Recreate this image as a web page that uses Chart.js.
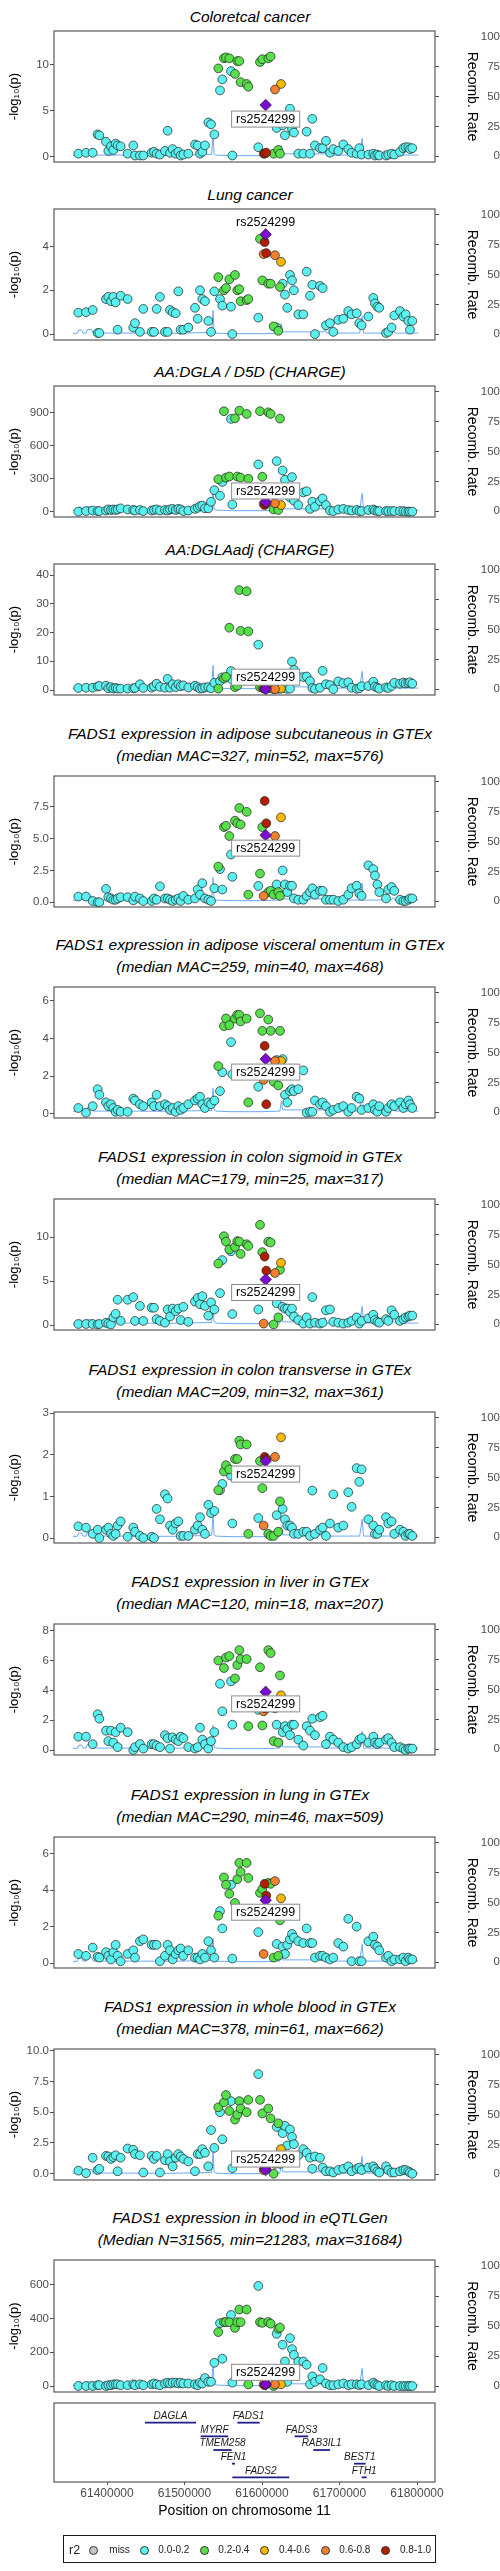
<!DOCTYPE html>
<html>
<head>
<meta charset="utf-8">
<title>FADS1 locus regional association plots</title>
<script src="https://cdn.jsdelivr.net/npm/chart.js@4.4.1/dist/chart.umd.min.js"></script>
<style>
  html, body { margin: 0; padding: 0; background: #fff; }
  #page { position: relative; width: 500px; height: 2571px; overflow: hidden; font-family: "Liberation Sans", Arial, sans-serif; }
  #page canvas { position: absolute; left: 0; }
  .ptitle { position: absolute; left: 0; width: 500px; text-align: center; font-style: italic; font-size: 15.5px; line-height: 22.5px; color: #000; white-space: nowrap; }
  #legendBox { position: absolute; left: 63px; top: 2535px; width: 371px; height: 26px; border: 1.5px solid #1a1a1a; }
  .lg-text { position: absolute; font-size: 10px; line-height: 12px; color: #222; white-space: nowrap; }
  .lg-dot { position: absolute; width: 7px; height: 7px; border-radius: 50%; border: 0.8px solid #333; }
</style>
</head>
<body>
<div id="page"></div>
<script>
(function () {
  'use strict';

  // ---- data -------------------------------------------------------------
  const LEAD_SNP = 'rs2524299';

  const SNP_POS = [
    61363000, 61372900, 61381500, 61387900, 61390100, 61398700, 61401700, 61405100, 61408100, 61411100,
    61413700, 61417600, 61426600, 61433900, 61436100, 61442500, 61446800, 61457600, 61460600, 61464000,
    61468300, 61474800, 61478200, 61481300, 61484700, 61488600, 61492000, 61495000, 61498500, 61504900,
    61513500, 61517000, 61520000, 61523000, 61526400, 61530700, 61534200, 61538500,
    61543600, 61545800, 61548800, 61550900, 61553500, 61557800, 61560000, 61561700, 61565100, 61568100,
    61570700, 61572400, 61580200, 61582300, 61595200, 61597400, 61600400, 61602100, 61603400, 61604700,
    61605500, 61608100, 61611100, 61615000, 61616700, 61618900, 61621000, 61623200, 61624500, 61626600,
    61629600, 61632600, 61636100, 61638700, 61641200, 61646800,
    61653300, 61657600, 61661900, 61664900, 61668300, 61674800, 61678200, 61682500, 61687700, 61692000,
    61698400, 61704900, 61711300, 61715600, 61722100, 61725500, 61728500, 61737200, 61743600, 61745700,
    61748800, 61751300, 61760000, 61762900, 61767200, 61770700, 61778000, 61782300, 61785300, 61788800,
    61790900, 61793900
  ];

  // r2 class with the lead SNP: 0 miss, 1 0.0-0.2 ... 5 0.8-1.0, 6 = lead SNP
  const SNP_LD = [
    1, 1, 1, 1, 1, 1, 1, 1, 1, 1, 1, 1, 1, 1, 1, 1, 1, 1, 1, 1,
    1, 1, 1, 1, 1, 1, 1, 1, 1, 1, 1, 1, 1, 1, 1, 1, 1, 1,
    2, 1, 1, 2, 2, 2, 1, 1, 2, 2, 2, 2, 2, 2, 1, 2, 2, 4, 5, 6,
    5, 2, 2, 2, 4, 1, 2, 2, 3, 1, 1, 1, 1, 1, 1, 1,
    1, 1, 1, 1, 1, 1, 1, 1, 1, 1, 1, 1, 1, 1, 1, 1,
    1, 1, 1, 1, 1, 1, 1, 1, 1, 1, 1, 1, 1, 1, 1, 1
  ];

  const LD_LABELS = ['miss', '0.0-0.2', '0.2-0.4', '0.4-0.6', '0.6-0.8', '0.8-1.0'];

  const LOGP_CRC = [
    0.3, 0.4, 0.4, 2.4, 2.3, 1.6, 0.6, 1.1, 0.7, 1.4, 1.2, 1.1, 0.3, 1.2, 0.1, 0.1, 0.1, 0.4, 0.5, 0.3,
    0.2, 0.6, 2.8, 0.4, 0.8, 0.3, 0.5, 0.1, 0.2, 0.3, 1.3, 1.2, 0.3, 0.5, 1.2, 3.7, 3.5, 2.4,
    9.6, 7.2, 8.4, 10.7, 10.8, 10.7, 9.3, 0.1, 9.0, 10.4, 10.4, 8.1, 7.9, 7.6, 1.0, 10.3, 10.6, 0.3, 0.3, 5.6,
    0.4, 10.7, 10.9, 0.3, 7.3, 3.1, 0.7, 0.3, 7.9, 3.4, 2.3, 3.7, 5.2, 3.0, 2.6, 0.3,
    0.3, 2.7, 0.3, 4.1, 1.2, 0.9, 0.9, 1.7, 0.4, 0.8, 0.6, 1.3, 0.8, 0.4, 0.3, 0.9,
    0.2, 0.2, 0.3, 0.1, 0.2, 0.1, 0.1, 0.2, 0.3, 0.2, 0.5, 0.9, 1.0, 1.0, 0.8, 0.9
  ];
  const LOGP_LUNGCA = [
    0.98, 1.0, 1.1, 0.05, 0.05, 1.6, 1.7, 1.5, 1.7, 1.45, 0.2, 1.75, 1.6, 0.3, 0.5, 0.1, 1.15, 0.1, 0.1, 1.15,
    1.7, 0.1, 0.1, 1.1, 1.0, 0.95, 1.95, 0.2, 0.2, 0.3, 1.2, 0.7, 2.0, 1.6, 1.5, 0.6, 0.1, 1.95,
    2.6, 1.6, 1.3, 2.0, 2.1, 2.5, 1.25, 0.0, 2.7, 2.0, 2.05, 1.5, 1.55, 1.6, 0.75, 4.35, 2.45, 3.65, 4.2, 4.55,
    3.7, 2.3, 2.3, 0.35, 3.6, 0.3, 0.15, 2.15, 3.3, 2.3, 1.8, 1.2, 2.7, 2.45, 2.0, 0.9,
    0.9, 2.85, 1.75, 2.25, 0.0, 2.2, 2.1, 0.4, 0.5, 0.1, 0.65, 0.7, 1.05, 0.9, 0.95, 0.5,
    0.4, 0.8, 1.65, 1.4, 1.25, 1.2, 0.05, 0.1, 0.3, 0.85, 1.05, 0.8, 0.9, 0.6, 0.2, 0.6
  ];
  const LOGP_D5D = [
    0, 5, 10, 5, 5, 10, 20, 15, 20, 15, 20, 30, 20, 15, 10, 15, 5, 10, 15, 20,
    10, 15, 10, 20, 25, 15, 25, 20, 5, 10, 25, 35, 50, 55, 30, 30, 90, 195,
    295, 145, 270, 915, 310, 320, 845, 65, 850, 320, 920, 310, 890, 300, 430, 915, 318, 70, 60, 88,
    75, 905, 890, 20, 76, 460, 15, 848, 60, 375, 290, 200, 130, 315, 100, 60,
    175, 185, 25, 90, 45, 95, 120, 60, 10, 5, 20, 25, 15, 10, 15, 5,
    5, 15, 20, 10, 5, 5, 5, 5, 5, 5, 5, 5, 0, 0, 0, 0
  ];
  const LOGP_DGLAADJ = [
    0.7, 0.8, 0.8, 1.2, 1.4, 1.5, 0.6, 1.0, 0.5, 0.7, 0.5, 0.5, 0.5, 0.6, 0.7, 2.0, 0.7, 0.8, 1.3, 2.2,
    1.1, 0.8, 3.9, 0.8, 2.0, 1.0, 2.0, 1.3, 1.6, 0.9, 1.5, 1.0, 0.5, 0.6, 0.9, 1.0, 0.6, 2.5,
    0.5, 3.1, 4.4, 4.0, 4.6, 21.7, 6.6, 3.5, 1.0, 1.5, 34.8, 20.6, 34.4, 20.4, 15.8, 1.0, 1.0, 0.5, 0.5, 0.3,
    0.5, 0.8, 0.6, 0.3, 0.3, 0.5, 0.5, 0.5, 0.5, 1.1, 0.6, 0.4, 0.5, 9.9, 7.0, 4.6,
    4.5, 4.7, 3.1, 0.7, 0.4, 0.8, 6.7, 2.0, 1.7, 0.3, 3.0, 2.4, 2.7, 0.8, 0.4, 0.6,
    1.3, 1.4, 2.9, 1.2, 0.8, 0.5, 0.9, 0.7, 1.4, 2.5, 2.2, 2.6, 2.3, 2.4, 2.7, 2.2
  ];
  const LOGP_ADIPSUBQ = [
    0.45, 0.45, 0.1, 0.0, 0.0, 1.05, 0.4, 0.3, 0.2, 0.2, 0.3, 0.4, 0.4, 0.15, 0.45, 0.3, 0.1, 0.1, 0.3, 0.2,
    1.25, 0.3, 0.3, 0.2, 0.1, 0.2, 0.3, 0.1, 0.5, 0.2, 0.3, 1.0, 0.6, 1.5, 0.3, 0.2, 0.1, 1.1,
    2.8, 2.6, 1.0, 5.9, 6.0, 5.2, 3.75, 2.0, 6.4, 6.2, 7.4, 6.1, 7.1, 0.6, 1.28, 2.25, 5.9, 0.5, 7.95, 5.27,
    6.2, 0.8, 0.9, 0.6, 5.2, 1.4, 0.8, 0.5, 6.66, 2.5, 1.4, 0.8, 1.3, 1.3, 0.3, 0.2,
    0.2, 0.5, 0.8, 1.1, 0.6, 0.9, 0.9, 0.2, 0.2, 0.2, 0.1, 0.2, 0.6, 1.1, 1.3, 0.7,
    0.5, 2.9, 2.6, 2.1, 1.4, 0.8, 0.3, 1.0, 1.2, 0.9, 0.2, 0.1, 0.1, 0.2, 0.3, 0.3
  ];
  const LOGP_ADIPVISC = [
    0.3, 0.05, 0.4, 1.3, 1.0, 0.6, 0.4, 0.5, 0.3, 0.1, 0.2, 0.1, 0.1, 0.8, 0.7, 0.5, 0.4, 0.6, 0.4, 1.0,
    0.4, 0.5, 0.4, 0.2, 0.3, 0.1, 0.4, 0.2, 0.3, 0.5, 0.7, 0.8, 0.9, 0.5, 0.3, 0.6, 0.5, 0.7,
    2.53, 1.2, 2.2, 4.65, 5.06, 4.7, 3.8, 2.1, 5.05, 5.25, 5.25, 4.9, 5.05, 0.6, 1.43, 5.33, 4.4, 1.8, 3.6, 2.9,
    0.5, 5.0, 4.4, 1.7, 2.8, 2.85, 1.5, 4.4, 2.8, 2.9, 1.0, 0.6, 1.2, 1.3, 1.2, 1.3,
    2.3, 0.05, 0.1, 0.1, 0.7, 0.5, 0.6, 0.4, 0.1, 0.2, 0.3, 0.4, 0.1, 0.3, 0.9, 0.8,
    0.2, 0.3, 0.5, 0.2, 0.1, 0.4, 0.1, 0.3, 0.5, 0.4, 0.6, 0.3, 0.5, 0.7, 0.5, 0.3
  ];
  const LOGP_COLONSIG = [
    0.15, 0.15, 0.15, 0.1, 0.15, 0.3, 0.2, 0.1, 0.9, 1.3, 2.9, 0.5, 2.9, 3.2, 0.5, 2.2, 0.5, 2.0, 2.0, 0.7,
    0.5, 0.3, 1.8, 1.0, 1.9, 1.6, 1.9, 0.6, 2.1, 0.4, 2.7, 3.1, 2.4, 3.3, 2.2, 1.1, 2.6, 1.8,
    7.0, 3.65, 7.4, 10.1, 9.5, 8.6, 8.4, 1.28, 8.9, 9.55, 9.5, 8.1, 9.2, 9.0, 1.8, 11.4, 8.3, 0.2, 7.8, 5.2,
    6.2, 9.5, 9.4, 0.1, 5.94, 2.5, 0.9, 6.3, 7.1, 2.1, 1.9, 1.9, 1.5, 1.9, 1.0, 0.6,
    0.2, 0.9, 0.2, 3.2, 0.3, 0.2, 0.3, 1.7, 1.8, 0.4, 0.3, 0.2, 0.3, 0.5, 0.9, 0.2,
    0.5, 0.8, 1.2, 0.6, 0.4, 0.3, 0.7, 0.5, 1.7, 1.2, 0.5, 0.7, 0.9, 1.0, 1.1, 1.1
  ];
  const LOGP_COLONTRANS = [
    0.28, 0.25, 0.1, 0.2, 0.0, 0.2, 0.25, 0.1, 0.05, 0.1, 0.3, 0.4, 0.03, 0.25, 0.15, 0.05, 0.0, 0.03, 0.0, 0.7,
    0.45, 1.05, 0.95, 0.3, 0.2, 0.35, 0.4, 0.05, 0.05, 0.05, 0.2, 0.3, 0.5, 0.2, 0.1, 0.8, 0.6, 0.65,
    1.15, 1.15, 1.3, 1.6, 1.75, 1.65, 1.5, 0.35, 1.9, 1.9, 2.34, 2.25, 2.25, 0.1, 0.48, 1.85, 1.2, 0.3, 1.95, 1.85,
    1.9, 0.1, 0.05, 0.05, 1.95, 0.55, 0.15, 0.88, 2.42, 0.7, 0.45, 0.3, 0.3, 0.25, 0.1, 0.1,
    0.15, 0.15, 0.05, 1.14, 0.1, 0.2, 0.25, 0.05, 0.35, 1.05, 0.25, 0.3, 1.1, 0.75, 1.68, 1.35,
    1.65, 0.45, 0.3, 0.1, 0.1, 0.2, 0.5, 0.35, 0.4, 0.1, 0.2, 0.15, 0.05, 0.1, 0.1, 0.05
  ];
  const LOGP_LIVER = [
    0.9, 0.9, 0.4, 2.4, 2.1, 1.3, 0.6, 1.3, 0.5, 1.2, 0.2, 1.5, 1.2, 0.0, 0.2, 0.4, 0.1, 0.4, 0.4, 0.3,
    0.2, 1.0, 0.8, 0.1, 0.85, 0.7, 0.6, 0.9, 0.8, 0.2, 0.1, 0.2, 1.5, 0.7, 0.4, 0.1, 0.6, 1.2,
    6.0, 4.44, 2.6, 5.5, 6.2, 6.3, 4.6, 1.7, 4.8, 5.7, 6.7, 6.1, 6.1, 1.6, 2.7, 5.55, 1.65, 2.6, 2.8, 3.9,
    2.8, 6.7, 6.5, 0.6, 2.8, 1.7, 0.5, 5.0, 3.67, 1.2, 1.6, 1.4, 1.0, 1.7, 1.7, 0.7,
    0.3, 1.6, 1.3, 2.1, 1.0, 2.2, 2.3, 0.4, 0.9, 0.7, 0.5, 0.2, 0.1, 0.2, 0.4, 0.7,
    0.8, 0.5, 0.9, 0.5, 0.4, 0.5, 0.7, 0.8, 0.5, 0.2, 0.2, 0.1, 0.0, 0.1, 0.1, 0.1
  ];
  const LOGP_LUNG = [
    0.5, 0.4, 0.85, 0.35, 0.3, 0.6, 0.4, 0.2, 0.6, 1.0, 0.4, 0.1, 0.5, 0.7, 0.3, 1.2, 1.3, 1.0, 1.0, 1.0,
    0.1, 0.4, 1.0, 0.7, 0.2, 0.5, 0.7, 0.8, 0.4, 0.7, 0.3, 0.3, 0.2, 0.5, 0.3, 1.2, 0.7, 0.3,
    2.6, 2.85, 1.9, 4.7, 4.3, 3.8, 4.3, 0.25, 3.3, 4.6, 5.5, 5.0, 5.5, 4.67, 1.7, 3.85, 4.07, 0.5, 4.35, 3.45,
    3.7, 4.4, 4.35, 0.3, 4.5, 1.05, 0.4, 2.35, 3.55, 0.9, 0.5, 1.0, 1.3, 1.6, 1.4, 1.2,
    1.1, 1.9, 1.1, 1.1, 0.3, 0.4, 0.4, 0.3, 0.2, 0.3, 1.1, 0.9, 2.43, 0.1, 2.0, 0.1,
    0.1, 1.2, 1.45, 1.0, 0.9, 0.7, 0.3, 0.4, 0.1, 0.2, 0.2, 0.3, 0.1, 0.3, 0.2, 0.2
  ];
  const LOGP_BLOOD = [
    0.25, 0.05, 1.3, 0.3, 0.4, 1.45, 1.4, 1.2, 1.35, 1.5, 0.2, 1.3, 2.05, 1.95, 1.6, 1.5, 0.1, 1.45, 1.2, 1.45,
    0.1, 1.1, 1.6, 1.0, 0.6, 1.3, 1.6, 1.4, 1.2, 1.0, 0.2, 1.6, 1.6, 2.0, 1.7, 0.6, 3.55, 2.1,
    5.4, 5.0, 2.8, 5.8, 6.4, 5.1, 5.9, 0.45, 4.4, 4.8, 5.9, 5.3, 5.0, 6.0, 8.1, 6.0, 4.9, 0.3, 0.4, 0.3,
    0.4, 5.3, 4.5, 0.0, 0.8, 3.8, 4.1, 0.8, 2.0, 3.3, 3.9, 2.3, 3.6, 3.0, 2.4, 1.5,
    2.0, 1.7, 1.3, 0.4, 1.4, 1.3, 0.5, 0.2, 0.2, 0.1, 0.3, 0.4, 0.6, 0.2, 0.4, 0.5,
    0.3, 0.5, 0.6, 0.4, 0.2, 0.1, 0.6, 0.3, 0.1, 0.1, 0.2, 0.3, 0.3, 0.2, 0.1, 0.0
  ];
  const LOGP_EQTLGEN = [
    0, 0, 0, 5, 5, 0, 5, 5, 10, 10, 10, 5, 5, 10, 5, 10, 5, 10, 15, 10,
    5, 15, 20, 15, 20, 20, 15, 20, 15, 15, 10, 5, 20, 15, 47, 25, 25, 138,
    320, 373, 162, 379, 379, 379, 422, 20, 345, 379, 454, 379, 454, 10, 594, 379, 375, 10, 5, 10,
    10, 380, 370, 0, 10, 310, 340, 347, 10, 245, 146, 25, 284, 219, 185, 145,
    145, 126, 10, 57, 25, 40, 107, 15, 5, 5, 10, 15, 5, 10, 10, 5,
    10, 5, 20, 10, 5, 0, 5, 0, 5, 0, 0, 0, 0, 0, 0, 0
  ];

  const RECOMB_POS = [
    61356100, 61361700, 61363400, 61367300, 61369000, 61373000, 61374600, 61380200, 61382000, 61420000,
    61480000, 61535000, 61536800, 61538100, 61540500, 61560000, 61600000, 61623000, 61625000, 61626600,
    61660000, 61680000, 61681300, 61683000, 61726000, 61729200, 61731000, 61766000, 61769400, 61772000,
    61801700
  ];
  const RECOMB_RATE = [
    0.8, 0.8, 3.5, 3.5, 1, 1, 4, 4, 1, 1,
    0.8, 1.5, 20, 2, 1, 0.5, 0.5, 1, 9, 2,
    2, 2, 6, 1, 1, 15, 1, 1, 3, 1,
    1
  ];

  const X_TICKS = [61400000, 61500000, 61600000, 61700000, 61800000];
  const RECOMB_TICKS = ['0', '25', '50', '75', '100'];

  const TICKS_CRC = ['0', '5', '10'];
  const TICKS_LUNGCA = ['0', '2', '4'];
  const TICKS_D5D = ['0', '300', '600', '900'];
  const TICKS_DGLAADJ = ['0', '10', '20', '30', '40'];
  const TICKS_ADIPSUBQ = ['0.0', '2.5', '5.0', '7.5'];
  const TICKS_ADIPVISC = ['0', '2', '4', '6'];
  const TICKS_COLONSIG = ['0', '5', '10'];
  const TICKS_COLONTRANS = ['0', '1', '2', '3'];
  const TICKS_LIVER = ['0', '2', '4', '6', '8'];
  const TICKS_LUNG = ['0', '2', '4', '6'];
  const TICKS_BLOOD = ['0.0', '2.5', '5.0', '7.5', '10.0'];
  const TICKS_EQTLGEN = ['0', '200', '400', '600'];

  const GENE_NAMES = ['DAGLA', 'MYRF', 'TMEM258', 'FEN1', 'FADS2', 'FADS1', 'FADS3', 'RAB3IL1', 'BEST1', 'FTH1'];
  const GENE_START = [61449000, 61520800, 61537200, 61561300, 61561700, 61568100, 61642100, 61666200, 61718700, 61728600];
  const GENE_END = [61514800, 61556500, 61560800, 61565100, 61635200, 61596900, 61659700, 61687700, 61733700, 61735000];
  const GENE_ROW = [1, 2, 3, 4, 5, 1, 2, 3, 4, 5];

  // ---- look & layout ----------------------------------------------------
  const FONT = '"Liberation Sans", Arial, sans-serif';
  const LD_COLORS = ['#c6c6c6', '#5cf1f1', '#57e04b', '#f6b800', '#f2802e', '#b31d00'];
  const LEAD_COLOR = '#7c0ccf';
  const X_MIN = 61331600;
  const X_MAX = 61823200;
  const PAD = 12;
  const LEFT_W = 54;
  const RIGHT_W = 65;

  const PANELS = [
    { title: ['Coloretcal cancer'], logp: LOGP_CRC, ticks: TICKS_CRC, range: [-0.61, 13.68], top: 31, h: 131, dy: 14, boxed: true },
    { title: ['Lung cancer'], logp: LOGP_LUNGCA, ticks: TICKS_LUNGCA, range: [-0.27, 5.71], top: 209, h: 131, dy: -12.5, boxed: false },
    { title: ['AA:DGLA / D5D (CHARGE)'], logp: LOGP_D5D, ticks: TICKS_D5D, range: [-49, 1145], top: 386, h: 131, dy: -11, boxed: true },
    { title: ['AA:DGLAadj (CHARGE)'], logp: LOGP_DGLAADJ, ticks: TICKS_DGLAADJ, range: [-1.74, 43.9], top: 564, h: 131, dy: -12, boxed: true },
    { title: ['FADS1 expression in adipose subcutaneous in GTEx', '(median MAC=327, min=52, max=576)'],
      logp: LOGP_ADIPSUBQ, ticks: TICKS_ADIPSUBQ, range: [-0.37, 9.91], top: 776, h: 131, dy: 13, boxed: true },
    { title: ['FADS1 expression in adipose visceral omentum in GTEx', '(median MAC=259, min=40, max=468)'],
      logp: LOGP_ADIPVISC, ticks: TICKS_ADIPVISC, range: [-0.23, 6.73], top: 987, h: 131, dy: 13, boxed: true },
    { title: ['FADS1 expression in colon sigmoid in GTEx', '(median MAC=179, min=25, max=317)'],
      logp: LOGP_COLONSIG, ticks: TICKS_COLONSIG, range: [-0.53, 14.33], top: 1199, h: 131, dy: 13, boxed: true },
    { title: ['FADS1 expression in colon transverse in GTEx', '(median MAC=209, min=32, max=361)'],
      logp: LOGP_COLONTRANS, ticks: TICKS_COLONTRANS, range: [-0.12, 3.03], top: 1412, h: 131, dy: 13, boxed: true },
    { title: ['FADS1 expression in liver in GTEx', '(median MAC=120, min=18, max=207)'],
      logp: LOGP_LIVER, ticks: TICKS_LIVER, range: [-0.33, 8.45], top: 1624, h: 131, dy: 12, boxed: true },
    { title: ['FADS1 expression in lung in GTEx', '(median MAC=290, min=46, max=509)'],
      logp: LOGP_LUNG, ticks: TICKS_LUNG, range: [-0.27, 6.92], top: 1837, h: 131, dy: 12, boxed: true },
    { title: ['FADS1 expression in whole blood in GTEx', '(median MAC=378, min=61, max=662)'],
      logp: LOGP_BLOOD, ticks: TICKS_BLOOD, range: [-0.51, 10.14], top: 2049, h: 131, dy: -11, boxed: true },
    { title: ['FADS1 expression in blood in eQTLGen', '(Median N=31565, min=21283, max=31684)'],
      logp: LOGP_EQTLGEN, ticks: TICKS_EQTLGEN, range: [-35.5, 748], top: 2260, h: 132, dy: -12, boxed: true }
  ];

  const page = document.getElementById('page');

  Chart.defaults.font.family = FONT;
  Chart.defaults.animation = false;

  // grey frame round every plot panel
  const framePlugin = {
    id: 'frame',
    afterDraw(chart) {
      const a = chart.chartArea;
      const ctx = chart.ctx;
      ctx.save();
      ctx.strokeStyle = '#5a5a5a';
      ctx.lineWidth = 1.2;
      ctx.strokeRect(a.left, a.top, a.right - a.left, a.bottom - a.top);
      ctx.restore();
    }
  };

  // rs label next to the lead SNP
  const leadLabelPlugin = {
    id: 'leadLabel',
    afterDatasetsDraw(chart, args, opts) {
      if (!opts || opts.dy === undefined) return;
      const el = chart.getDatasetMeta(2).data[0];
      if (!el) return;
      const ctx = chart.ctx;
      const cx = el.x;
      const cy = el.y + opts.dy;
      ctx.save();
      ctx.font = '12.5px ' + FONT;
      const w = ctx.measureText(LEAD_SNP).width + 9;
      const h = 16;
      if (opts.boxed) {
        ctx.fillStyle = '#fff';
        ctx.fillRect(cx - w / 2, cy - h / 2, w, h);
        ctx.strokeStyle = '#8a8a8a';
        ctx.lineWidth = 1;
        ctx.strokeRect(cx - w / 2, cy - h / 2, w, h);
      }
      ctx.fillStyle = '#000';
      ctx.textAlign = 'center';
      ctx.textBaseline = 'middle';
      ctx.fillText(LEAD_SNP, cx, cy + 0.5);
      ctx.restore();
    }
  };

  // gene names above the gene bars
  const geneLabelPlugin = {
    id: 'geneLabels',
    afterDatasetsDraw(chart, args, opts) {
      if (!opts || !opts.show) return;
      const ctx = chart.ctx;
      const xs = chart.scales.x;
      const ys = chart.scales.y;
      ctx.save();
      ctx.font = 'italic 10px ' + FONT;
      ctx.fillStyle = '#1a1a1a';
      ctx.textAlign = 'center';
      ctx.textBaseline = 'middle';
      GENE_NAMES.forEach((name, i) => {
        const x = xs.getPixelForValue((GENE_START[i] + GENE_END[i]) / 2);
        const y = ys.getPixelForValue(GENE_ROW[i]);
        ctx.fillText(name, x, y - 6.5);
      });
      ctx.restore();
    }
  };

  Chart.register(framePlugin, leadLabelPlugin, geneLabelPlugin);

  function addTitle(p) {
    const div = document.createElement('div');
    div.className = 'ptitle';
    const shift = p.title.length === 2 ? 53.5 : 25.25;
    div.style.top = (p.top - shift) + 'px';
    div.innerHTML = p.title.join('<br>');
    page.appendChild(div);
  }

  function addCanvas(top, height) {
    const c = document.createElement('canvas');
    c.width = 500;
    c.height = height;
    c.style.top = top + 'px';
    page.appendChild(c);
    return c;
  }

  function tickGrid() {
    return { display: true, drawOnChartArea: false, drawTicks: true, tickLength: 4, tickColor: '#4d4d4d', tickWidth: 1 };
  }

  function makePanel(p) {
    addTitle(p);
    const canvas = addCanvas(p.top - PAD, p.h + 2 * PAD);

    const pts = [];
    const cols = [];
    for (let cls = 0; cls <= 5; cls++) {
      SNP_POS.forEach((x, k) => {
        if (SNP_LD[k] === cls) {
          pts.push({ x: x, y: p.logp[k] });
          cols.push(LD_COLORS[cls]);
        }
      });
    }
    const lead = SNP_LD.indexOf(6);
    const yVals = p.ticks.map(Number);
    const rVals = RECOMB_TICKS.map(Number);

    new Chart(canvas, {
      type: 'scatter',
      data: {
        datasets: [
          {
            type: 'line',
            data: RECOMB_POS.map((x, k) => ({ x: x, y: RECOMB_RATE[k] })),
            yAxisID: 'y2',
            borderColor: '#6aaaf5',
            borderWidth: 1,
            pointRadius: 0,
            tension: 0,
            order: 3
          },
          {
            data: pts,
            yAxisID: 'y',
            backgroundColor: cols,
            borderColor: '#1e1e1e',
            borderWidth: 0.7,
            pointRadius: 4.4,
            order: 2
          },
          {
            data: [{ x: SNP_POS[lead], y: p.logp[lead] }],
            yAxisID: 'y',
            pointStyle: 'rectRot',
            backgroundColor: LEAD_COLOR,
            borderColor: '#1e1e1e',
            borderWidth: 0.7,
            pointRadius: 5.8,
            order: 1
          }
        ]
      },
      options: {
        responsive: false,
        animation: false,
        events: [],
        layout: { padding: { top: PAD, bottom: PAD, left: 0, right: 0 } },
        scales: {
          x: { type: 'linear', display: false, min: X_MIN, max: X_MAX },
          y: {
            type: 'linear',
            position: 'left',
            min: p.range[0],
            max: p.range[1],
            afterBuildTicks: (s) => { s.ticks = yVals.map((v) => ({ value: v })); },
            afterFit: (s) => { s.width = LEFT_W; },
            ticks: {
              callback: (v, i) => p.ticks[i],
              color: '#4d4d4d',
              font: { size: 11.5 },
              padding: 1,
              autoSkip: false
            },
            grid: tickGrid(),
            border: { display: false },
            title: {
              display: true,
              text: '-log\u2081\u2080(p)',
              color: '#000',
              font: { size: 13 },
              padding: { top: 7, bottom: 0 }
            }
          },
          y2: {
            type: 'linear',
            position: 'right',
            min: -4.8,
            max: 105,
            afterBuildTicks: (s) => { s.ticks = rVals.map((v) => ({ value: v })); },
            afterFit: (s) => { s.width = RIGHT_W; },
            ticks: {
              callback: (v, i) => RECOMB_TICKS[i],
              color: '#4d4d4d',
              font: { size: 11.5 },
              padding: 1,
              crossAlign: 'far',
              autoSkip: false
            },
            grid: tickGrid(),
            border: { display: false },
            title: {
              display: true,
              text: 'Recomb. Rate',
              color: '#000',
              font: { size: 14 },
              padding: { top: 20, bottom: 0 }
            }
          }
        },
        plugins: {
          legend: { display: false },
          tooltip: { enabled: false },
          leadLabel: { dy: p.dy, boxed: p.boxed }
        }
      }
    });
  }

  function makeGeneTrack() {
    const top = 2403;
    const h = 79;
    const axisH = 40;
    const canvas = addCanvas(top - PAD, PAD + h + axisH + 4);

    new Chart(canvas, {
      type: 'line',
      data: {
        datasets: GENE_NAMES.map((name, i) => ({
          label: name,
          data: [{ x: GENE_START[i], y: GENE_ROW[i] }, { x: GENE_END[i], y: GENE_ROW[i] }],
          borderColor: '#1f1f8c',
          borderWidth: 1.8,
          pointRadius: 0
        }))
      },
      options: {
        responsive: false,
        animation: false,
        events: [],
        layout: { padding: { top: PAD, bottom: 4, left: LEFT_W, right: RIGHT_W } },
        scales: {
          x: {
            type: 'linear',
            min: X_MIN,
            max: X_MAX,
            afterBuildTicks: (s) => { s.ticks = X_TICKS.map((v) => ({ value: v })); },
            afterFit: (s) => { s.height = axisH; },
            ticks: {
              callback: (v) => String(v),
              color: '#4d4d4d',
              font: { size: 12 },
              padding: 1,
              maxRotation: 0,
              autoSkip: false
            },
            grid: { display: true, drawOnChartArea: false, drawTicks: true, tickLength: 3, tickColor: '#4d4d4d' },
            border: { display: false },
            title: {
              display: true,
              text: 'Position on chromosome 11',
              color: '#000',
              font: { size: 14 },
              padding: { top: 0, bottom: 2 }
            }
          },
          y: { type: 'linear', display: false, reverse: true, min: -0.44, max: 5.34 }
        },
        plugins: {
          legend: { display: false },
          tooltip: { enabled: false },
          geneLabels: { show: true }
        }
      }
    });
  }

  function makeLegend() {
    const box = document.createElement('div');
    box.id = 'legendBox';
    page.appendChild(box);

    const cy = 2550;
    const title = document.createElement('div');
    title.className = 'lg-text';
    title.style.left = '69px';
    title.style.top = (cy - 7.5) + 'px';
    title.style.fontSize = '12.5px';
    title.style.lineHeight = '15px';
    title.textContent = 'r2';
    page.appendChild(title);

    const dotX = [93.3, 144.3, 204.3, 264.3, 325, 385];
    const textX = [109.3, 158.3, 218.3, 279, 339.3, 400];
    LD_LABELS.forEach((lab, i) => {
      const dot = document.createElement('div');
      dot.className = 'lg-dot';
      dot.style.background = LD_COLORS[i];
      dot.style.left = (dotX[i] - 4.3) + 'px';
      dot.style.top = (cy - 4.3) + 'px';
      page.appendChild(dot);
      const t = document.createElement('div');
      t.className = 'lg-text';
      t.style.left = textX[i] + 'px';
      t.style.top = (cy - 6) + 'px';
      t.textContent = lab;
      page.appendChild(t);
    });
  }

  PANELS.forEach(makePanel);
  makeGeneTrack();
  makeLegend();
})();
</script>
</body>
</html>
